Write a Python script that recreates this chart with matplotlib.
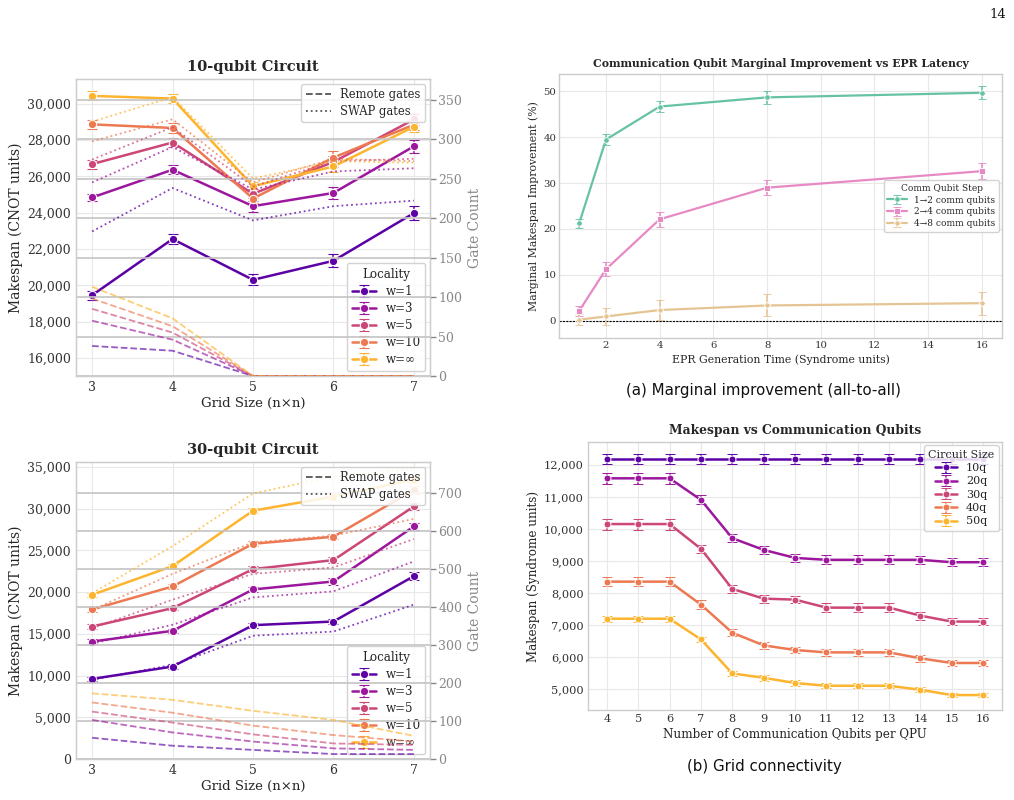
import matplotlib
matplotlib.use("Agg")
import matplotlib.pyplot as plt
import seaborn as sns
import numpy as np
from matplotlib.ticker import FuncFormatter, MultipleLocator
from matplotlib.lines import Line2D

sns.set_style("whitegrid")
plt.rcParams['font.family'] = ['DejaVu Serif']

# ---------------- data ----------------
grid_sizes = [3, 4, 5, 6, 7]
locality_labels = ["w=1", "w=3", "w=5", "w=10", "w=\u221e"]

# 10-qubit circuit: makespan (CNOT units)
ms10_w1 = [19450, 22550, 20300, 21350, 23980]
ms10_w3 = [24840, 26370, 24360, 25090, 27660]
ms10_w5 = [26680, 27870, 25040, 26800, 29140]
ms10_w10 = [28870, 28670, 24780, 27040, 28850]
ms10_winf = [30440, 30290, 25460, 26550, 28740]
err10_w1 = [250, 250, 300, 350, 400]
err10_w3 = [200, 250, 300, 350, 350]
err10_w5 = [250, 250, 250, 300, 300]
err10_w10 = [250, 250, 250, 350, 300]
err10_winf = [250, 250, 250, 300, 300]
# 10-qubit gate counts
remote10_w1 = [38, 32, 0, 0, 0]
remote10_w3 = [70, 46, 0, 0, 0]
remote10_w5 = [85, 55, 0, 0, 0]
remote10_w10 = [98, 63, 0, 0, 0]
remote10_winf = [113, 73, 0, 0, 0]
swap10_w1 = [183, 238, 197, 215, 222]
swap10_w3 = [245, 290, 236, 259, 263]
swap10_w5 = [274, 315, 240, 272, 275]
swap10_w10 = [297, 325, 245, 275, 272]
swap10_winf = [322, 353, 250, 272, 270]

# 30-qubit circuit: makespan (CNOT units)
ms30_w1 = [9600, 11080, 16040, 16480, 21920]
ms30_w3 = [14080, 15360, 20320, 21280, 27880]
ms30_w5 = [15880, 18080, 22760, 23840, 30280]
ms30_w10 = [17920, 20680, 25800, 26640, 32250]
ms30_winf = [19680, 23120, 29760, 31450, 33500]
err30_w1 = [200, 250, 300, 300, 500]
err30_w3 = [250, 250, 350, 400, 450]
err30_w5 = [250, 250, 400, 400, 450]
err30_w10 = [250, 250, 300, 300, 450]
err30_winf = [250, 300, 300, 350, 450]
remote30_w1 = [56, 35, 24, 13, 13]
remote30_w3 = [103, 70, 46, 28, 24]
remote30_w5 = [125, 96, 65, 41, 37]
remote30_w10 = [149, 122, 88, 63, 46]
remote30_winf = [173, 156, 127, 103, 61]
swap30_w1 = [209, 248, 325, 336, 407]
swap30_w3 = [304, 354, 426, 442, 521]
swap30_w5 = [345, 420, 488, 505, 580]
swap30_w10 = [393, 488, 571, 589, 633]
swap30_winf = [437, 561, 700, 745, 765]

# Marginal improvement (all-to-all)
epr_times = [1, 2, 4, 8, 16]
step_labels = ["1\u21922 comm qubits", "2\u21924 comm qubits", "4\u21928 comm qubits"]
imp_1_2 = [21.2, 39.5, 46.7, 48.7, 49.7]
imp_2_4 = [2.1, 11.2, 22.1, 29.0, 32.6]
imp_4_8 = [0.2, 0.9, 2.3, 3.3, 3.8]
imp_err_1_2 = [1.0, 1.3, 1.3, 1.4, 1.4]
imp_err_2_4 = [1.1, 1.5, 1.6, 1.7, 1.8]
imp_err_4_8 = [1.2, 1.8, 2.1, 2.4, 2.5]

# Grid connectivity: makespan vs comm qubits
comm_qubits = [4, 5, 6, 7, 8, 9, 10, 11, 12, 13, 14, 15, 16]
size_labels = ["10q", "20q", "30q", "40q", "50q"]
mk_10q = [12170] * 13
mk_20q = [11575, 11575, 11575, 10905, 9710, 9345, 9095, 9035, 9035, 9035, 9035, 8960, 8960]
mk_30q = [10150, 10150, 10150, 9380, 8130, 7825, 7795, 7545, 7545, 7545, 7295, 7110, 7110]
mk_40q = [8355, 8355, 8355, 7640, 6765, 6370, 6225, 6150, 6150, 6150, 5965, 5820, 5820]
mk_50q = [7200, 7200, 7200, 6555, 5495, 5360, 5195, 5110, 5110, 5110, 4985, 4820, 4820]
mk_err_10q = [160] * 13
mk_err_20q = [170, 170, 170, 140, 130, 120, 130, 140, 140, 140, 130, 120, 120]
mk_err_30q = [170, 170, 170, 130, 120, 120, 110, 130, 130, 130, 120, 120, 120]
mk_err_40q = [130, 130, 130, 150, 110, 110, 100, 110, 110, 110, 110, 100, 100]
mk_err_50q = [100, 100, 100, 80, 80, 90, 80, 80, 80, 80, 80, 70, 70]

# ---------------- figure ----------------
W, H = 1014, 800
fig = plt.figure(figsize=(W / 100, H / 100), dpi=100)

def px_axes(left, top, right, bottom):
    return fig.add_axes([left / W, 1 - bottom / H, (right - left) / W, (bottom - top) / H])

plasma = sns.color_palette("plasma", 5)
comma = FuncFormatter(lambda v, p: f"{int(v):,}")
spine_col = "#cccccc"

def style_axes(ax):
    for s in ax.spines.values():
        s.set_color(spine_col)
        s.set_linewidth(1.0)
    ax.grid(True, color="#e8e8e8", linewidth=0.8)
    ax.tick_params(length=0, colors="#333333")

def grid_panel(ax, title, ms, errs, remote, swap, ylim, yticks, ylim2, yticks2, legend_fs):
    style_axes(ax)
    for i in range(5):
        ax.errorbar(grid_sizes, ms[i], yerr=errs[i], color=plasma[i], marker="o",
                    markersize=6, markeredgecolor="white", markeredgewidth=0.8,
                    linewidth=1.8, capsize=3.5, elinewidth=1.1, label=locality_labels[i],
                    zorder=3)
    ax.set_xlim(2.8, 7.2)
    ax.set_xticks(grid_sizes)
    ax.set_ylim(*ylim)
    ax.set_yticks(yticks)
    ax.yaxis.set_major_formatter(comma)
    ax.tick_params(labelsize=9)
    ax.set_xlabel("Grid Size (n\u00d7n)", fontsize=9.5, labelpad=2)
    ax.set_ylabel("Makespan (CNOT units)", fontsize=10, labelpad=3)
    ax.set_title(title, fontsize=10.5, fontweight="bold", pad=6)
    leg = ax.legend(title="Locality", loc="lower right", fontsize=legend_fs,
                    title_fontsize=legend_fs, framealpha=0.85, borderaxespad=0.4,
                    handlelength=2.0, labelspacing=0.35)
    leg.get_frame().set_edgecolor("#cccccc")

    ax2 = ax.twinx()
    for i in range(5):
        ax2.plot(grid_sizes, remote[i], color=plasma[i], linestyle="--", linewidth=1.3, alpha=0.65)
        ax2.plot(grid_sizes, swap[i], color=plasma[i], linestyle=":", linewidth=1.3, alpha=0.75)
    ax2.set_ylim(*ylim2)
    ax2.set_yticks(yticks2)
    ax2.grid(True, axis="y", color="#c4c4c4", linewidth=1.2)
    ax2.grid(False, axis="x")
    for s in ax2.spines.values():
        s.set_color(spine_col)
    ax2.tick_params(axis="y", length=4, width=1, colors="#888888", labelcolor="#888888",
                    labelsize=9, pad=2)
    ax2.set_ylabel("Gate Count", fontsize=10, color="#888888", labelpad=4)
    handles = [Line2D([0], [0], color="#555555", linestyle="--", linewidth=1.3),
               Line2D([0], [0], color="#555555", linestyle=":", linewidth=1.3)]
    leg2 = ax2.legend(handles, ["Remote gates", "SWAP gates"], loc="upper right",
                      fontsize=8.3, framealpha=0.85, borderaxespad=0.4, handlelength=2.2,
                      labelspacing=0.3)
    leg2.get_frame().set_edgecolor("#cccccc")
    return ax2

ax1 = px_axes(76, 79, 430, 376)
grid_panel(ax1, "10-qubit Circuit",
           [ms10_w1, ms10_w3, ms10_w5, ms10_w10, ms10_winf],
           [err10_w1, err10_w3, err10_w5, err10_w10, err10_winf],
           [remote10_w1, remote10_w3, remote10_w5, remote10_w10, remote10_winf],
           [swap10_w1, swap10_w3, swap10_w5, swap10_w10, swap10_winf],
           (15000, 31370), range(16000, 30001, 2000), (0, 376), range(0, 351, 50), 8.6)

ax3 = px_axes(76, 462, 430, 759)
grid_panel(ax3, "30-qubit Circuit",
           [ms30_w1, ms30_w3, ms30_w5, ms30_w10, ms30_winf],
           [err30_w1, err30_w3, err30_w5, err30_w10, err30_winf],
           [remote30_w1, remote30_w3, remote30_w5, remote30_w10, remote30_winf],
           [swap30_w1, swap30_w3, swap30_w5, swap30_w10, swap30_winf],
           (0, 35600), range(0, 35001, 5000), (0, 783), range(0, 701, 100), 8.6)

# ---- top right: marginal improvement ----
axm = px_axes(559, 74, 1002, 338)
style_axes(axm)
set2 = sns.color_palette("Set2")
imp_cols = [set2[0], set2[3], set2[6]]
imp_markers = ["o", "s", "D"]
for vals, errs, col, mk, lab in zip([imp_1_2, imp_2_4, imp_4_8],
                                     [imp_err_1_2, imp_err_2_4, imp_err_4_8],
                                     imp_cols, imp_markers, step_labels):
    axm.errorbar(epr_times, vals, yerr=errs, color=col, marker=mk,
                 markersize=4 if mk != "D" else 3.5, markeredgecolor="white",
                 markeredgewidth=0.6, linewidth=1.6, capsize=3, elinewidth=1.1,
                 label=lab, zorder=3)
axm.axhline(0, color="black", linestyle=(0, (2, 1)), linewidth=0.8, zorder=2)
axm.set_xlim(0.25, 16.75)
axm.set_ylim(-3.8, 53.8)
axm.set_xticks([2, 4, 6, 8, 10, 12, 14, 16])
axm.set_yticks([0, 10, 20, 30, 40, 50])
axm.tick_params(labelsize=7.3, pad=2)
axm.set_xlabel("EPR Generation Time (Syndrome units)", fontsize=7.8, labelpad=3)
axm.set_ylabel("Marginal Makespan Improvement (%)", fontsize=7.8, labelpad=3)
axm.set_title("Communication Qubit Marginal Improvement vs EPR Latency",
              fontsize=7.8, fontweight="bold", pad=5)
legm = axm.legend(title="Comm Qubit Step", loc="center right", fontsize=6.5,
                  title_fontsize=6.5, framealpha=0.85, borderaxespad=0.3,
                  handlelength=2.2, labelspacing=0.3)
legm.get_frame().set_edgecolor("#cccccc")

# ---- bottom right: makespan vs comm qubits ----
axc = px_axes(588, 442, 1002, 710)
style_axes(axc)
for i, (vals, errs) in enumerate(zip([mk_10q, mk_20q, mk_30q, mk_40q, mk_50q],
                                     [mk_err_10q, mk_err_20q, mk_err_30q, mk_err_40q, mk_err_50q])):
    axc.errorbar(comm_qubits, vals, yerr=errs, color=plasma[i], marker="o",
                 markersize=5, markeredgecolor="white", markeredgewidth=0.7,
                 linewidth=1.8, capsize=3.5, elinewidth=1.1, label=size_labels[i], zorder=3)
axc.set_xlim(3.4, 16.6)
axc.set_ylim(4355, 12707)
axc.set_xticks(comm_qubits)
axc.set_yticks(range(5000, 12001, 1000))
axc.yaxis.set_major_formatter(comma)
axc.tick_params(labelsize=8.2, pad=3)
axc.set_xlabel("Number of Communication Qubits per QPU", fontsize=8.6, labelpad=3)
axc.set_ylabel("Makespan (Syndrome units)", fontsize=8.6, labelpad=3)
axc.set_title("Makespan vs Communication Qubits", fontsize=8.8, fontweight="bold", pad=6)
legc = axc.legend(title="Circuit Size", loc="upper right", fontsize=8, title_fontsize=8,
                  framealpha=0.85, borderaxespad=0.3, handlelength=2.0, labelspacing=0.3)
legc.get_frame().set_edgecolor("#cccccc")

# ---- captions and page number ----
fig.text(764 / W, 1 - 390 / H, "(a) Marginal improvement (all-to-all)", ha="center",
         va="center", fontsize=10.8, family="DejaVu Sans", color="#111111")
fig.text(764 / W, 1 - 766 / H, "(b) Grid connectivity", ha="center", va="center",
         fontsize=10.8, family="DejaVu Sans", color="#111111")
fig.text(998 / W, 1 - 14 / H, "14", ha="center", va="center", fontsize=9.5,
         family="DejaVu Serif", color="#111111")

fig.savefig("out.png", dpi=100)
